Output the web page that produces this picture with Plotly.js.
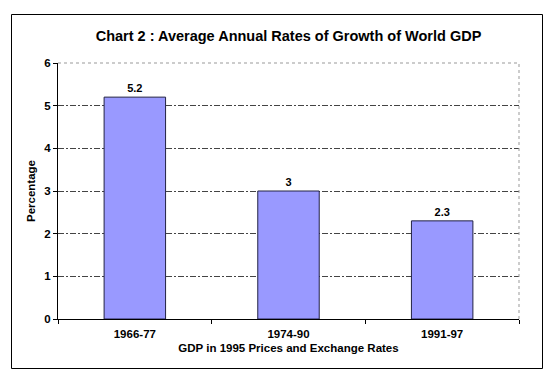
<!DOCTYPE html>
<html>
<head>
<meta charset="utf-8">
<script src="https://cdn.plot.ly/plotly-3.0.1.min.js"></script>
<style>html,body{margin:0;padding:0;background:#fff;}#chart{width:556px;height:387px;}</style>
</head>
<body>
<div id="chart"></div>
<script>
const periods = ["1966-77", "1974-90", "1991-97"];
const growthRates = [5.2, 3, 2.3];
const barLabels = ["5.2", "3", "2.3"];
const yTicks = [0, 1, 2, 3, 4, 5, 6];

const W = 556, H = 387;
const L = 58, R = 37, T = 63, B = 68;
const pw = W - L - R, ph = H - T - B;
const px = v => (v - L) / pw;
const py = v => (H - B - v) / ph;

const fam = "Arial, 'Liberation Sans', sans-serif";
const font = {family: fam, size: 11.5, color: "#000", weight: "bold"};
const tfont = {family: fam, size: 11.5, color: "#000", weight: "bold"};

const trace = {
  type: "bar",
  x: periods,
  y: growthRates,
  text: barLabels,
  textposition: "outside",
  textfont: {family: fam, size: 11, color: "#000", weight: "bold"},
  cliponaxis: false,
  width: 0.4,
  marker: {color: "#9999FF", line: {color: "#222244", width: 1}},
  hoverinfo: "skip"
};

const layout = {
  width: W, height: H,
  margin: {l: L, r: R, t: T, b: B, pad: 0},
  paper_bgcolor: "#fff",
  plot_bgcolor: "#fff",
  showlegend: false,
  font: font,
  title: {
    text: "Chart 2 : Average Annual Rates of Growth of World GDP",
    font: {family: fam, size: 14.5, color: "#000", weight: "bold"},
    x: 0.5, xref: "paper", xanchor: "center",
    y: 1 - 36 / H, yref: "container", yanchor: "middle"
  },
  xaxis: {
    type: "category",
    tickson: "boundaries",
    ticks: "outside", ticklen: 4, tickcolor: "#000",
    ticklabelstandoff: 4,
    showline: true, linecolor: "#000", linewidth: 1,
    showgrid: false, zeroline: false,
    tickfont: font,
    title: {text: "GDP in 1995 Prices and Exchange Rates", font: tfont, standoff: 5}
  },
  yaxis: {
    range: [0, 6],
    tickvals: yTicks,
    ticktext: yTicks.map(String),
    ticks: "outside", ticklen: 4, tickcolor: "#000",
    showline: true, linecolor: "#000", linewidth: 1,
    showgrid: true, gridcolor: "#444", gridwidth: 1, griddash: "6px,2px,2px,2px",
    zeroline: false,
    tickfont: font,
    title: {text: "Percentage", font: tfont, standoff: 6}
  },
  shapes: [
    {type: "line", xref: "paper", yref: "paper", x0: 0, x1: 1, y0: 1, y1: 1,
     line: {color: "#fff", width: 1.5}, layer: "above"},
    {type: "line", xref: "paper", yref: "paper", x0: 0, x1: 1, y0: 1, y1: 1,
     line: {color: "#999", width: 1, dash: "dot"}, layer: "above"},
    {type: "line", xref: "paper", yref: "paper", x0: 1, x1: 1, y0: 0, y1: 1,
     line: {color: "#999", width: 1, dash: "dot"}, layer: "above"},
    {type: "rect", xref: "paper", yref: "paper",
     x0: px(11.5), x1: px(542.5), y0: py(368.5), y1: py(14.5),
     line: {color: "#000", width: 1}, fillcolor: "rgba(0,0,0,0)", layer: "above"}
  ]
};

Plotly.newPlot("chart", [trace], layout, {displayModeBar: false, staticPlot: true});
</script>
</body>
</html>
